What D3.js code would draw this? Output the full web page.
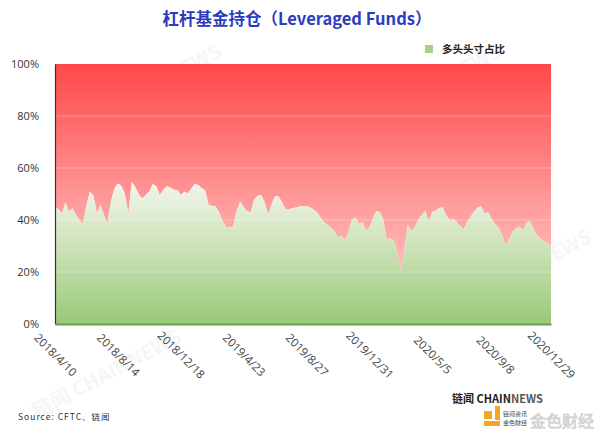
<!DOCTYPE html>
<html>
<head>
<meta charset="utf-8">
<script src="https://cdn.jsdelivr.net/npm/d3@7"></script>
<style>
html,body{margin:0;padding:0;background:#fff;}
svg{display:block;}
</style>
</head>
<body>
<svg id="chart" width="600" height="437"></svg>
<script>
// ---- data ----
const title = "杠杆基金持仓（Leveraged Funds）";
const seriesName = "多头头寸占比";
const source = "Source: CFTC、链闻";
// weekly long-position share (%) from 2018/4/10 to 2020/12/29
const longShare = [
 44.9,44.1,42.6,46.8,43.2,44.5,42.0,40.0,38.7,45.8,
 50.9,49.3,42.6,45.8,42.0,38.5,47.1,52.0,54.0,53.2,
 50.0,42.6,54.7,52.6,49.8,48.3,49.7,51.0,53.8,53.0,
 49.6,51.5,53.0,52.5,51.6,51.5,49.6,50.9,50.3,52.0,
 53.8,53.5,52.2,51.3,45.8,45.5,45.2,43.0,39.5,37.3,
 37.2,37.5,43.5,47.1,45.0,43.3,43.0,47.8,49.3,49.5,
 47.0,42.0,46.0,49.2,49.0,46.8,44.2,44.1,44.5,44.8,
 45.2,45.4,45.3,44.9,44.0,43.0,41.0,39.2,38.0,37.0,
 35.7,33.5,33.8,32.3,35.5,40.1,41.0,38.5,39.2,36.0,
 37.0,40.5,43.5,43.0,40.0,32.3,33.0,32.0,27.5,20.1,
 28.5,38.1,35.8,37.3,40.0,41.9,43.6,39.5,43.3,43.6,
 44.5,44.9,41.7,40.0,40.3,39.3,37.6,36.4,39.2,41.3,
 43.3,44.9,45.3,42.5,43.0,40.5,38.4,37.0,34.0,30.3,
 32.3,35.5,36.7,37.4,36.2,39.0,39.6,36.5,34.0,32.8,
 31.8,31.1,30.2
];
const xTickIndex = [0,18,36,54,72,90,108,126,142];
const xTickLabels = ["2018/4/10","2018/8/14","2018/12/18","2019/4/23","2019/8/27","2019/12/31","2020/5/5","2020/9/8","2020/12/29"];
const yTicks = [0,20,40,60,80,100];

// ---- layout ----
const svg = d3.select("#chart");
const L = 55, R = 551, T = 64, B = 324;
const x = d3.scaleLinear().domain([0, longShare.length - 1]).range([L, R]);
const y = d3.scaleLinear().domain([0, 100]).range([B, T]);

const defs = svg.append("defs");
const gRed = defs.append("linearGradient").attr("id","gRed")
  .attr("gradientUnits","userSpaceOnUse").attr("x1",0).attr("x2",0).attr("y1",T).attr("y2",B);
gRed.append("stop").attr("offset","0%").attr("stop-color","#ff4848");
gRed.append("stop").attr("offset","55%").attr("stop-color","#ff9d9d");
gRed.append("stop").attr("offset","100%").attr("stop-color","#ffd4d4");
const gGreen = defs.append("linearGradient").attr("id","gGreen")
  .attr("gradientUnits","userSpaceOnUse").attr("x1",0).attr("x2",0).attr("y1",y(56)).attr("y2",B);
gGreen.append("stop").attr("offset","0%").attr("stop-color","#f4f6ee");
gGreen.append("stop").attr("offset","45%").attr("stop-color","#cfe3bb");
gGreen.append("stop").attr("offset","100%").attr("stop-color","#98c978");

// faint watermarks
const wm = [[150,95],[430,95],[110,380],[520,280]];
svg.append("g").selectAll("text").data(wm).join("text")
  .attr("transform", d => `translate(${d[0]},${d[1]}) rotate(-28)`)
  .attr("text-anchor","middle")
  .style("font-family","'Noto Sans CJK SC', sans-serif").style("font-weight","700")
  .style("font-size","20px").attr("fill","#000").attr("opacity",0.03)
  .text("链闻 CHAINNEWS");

// areas
const idx = d3.range(longShare.length);
svg.append("path").datum(idx)
  .attr("fill","url(#gRed)")
  .attr("d", d3.area().x(i => x(i)).y0(y(100)).y1(i => y(longShare[i])));
svg.append("path").datum(idx)
  .attr("fill","url(#gGreen)")
  .attr("d", d3.area().x(i => x(i)).y0(y(0)).y1(i => y(longShare[i])));

// gridlines
svg.append("g").selectAll("line").data(yTicks.filter(v => v > 0 && v < 100)).join("line")
  .attr("x1", L).attr("x2", R).attr("y1", d => y(d)).attr("y2", d => y(d))
  .attr("stroke","#ffffff").attr("stroke-opacity",0.3).attr("stroke-width",1);

// y axis
const yAxis = svg.append("g").attr("transform",`translate(${L},0)`)
  .call(d3.axisLeft(y).tickValues(yTicks).tickFormat(d => d + "%").tickSize(0).tickPadding(16));
yAxis.select(".domain").attr("stroke","#333").attr("stroke-width",1.2);
yAxis.selectAll("text").style("font-family","'Open Sans', sans-serif").style("font-size","11px").attr("fill","#333");

// x axis
const xAxis = svg.append("g").attr("transform",`translate(0,${B})`)
  .call(d3.axisBottom(x).tickValues(xTickIndex).tickFormat((d,i) => xTickLabels[i]).tickSize(0));
xAxis.select(".domain").attr("stroke","#6e9e4f").attr("stroke-width",2);
xAxis.selectAll("text")
  .attr("y",0).attr("dy","0.35em")
  .attr("transform","translate(0,31) rotate(45)")
  .attr("text-anchor","middle")
  .style("font-family","'Open Sans', sans-serif").style("font-size","11.5px").attr("fill","#444");

// title
svg.append("text").attr("x",297).attr("y",25).attr("text-anchor","middle")
  .style("font-family","'Noto Sans CJK SC', sans-serif").style("font-weight","700")
  .style("font-size","16.5px").attr("fill","#2b3cc0").text(title);

// legend
svg.append("rect").attr("x",425).attr("y",45).attr("width",8).attr("height",8).attr("fill","#a9d18e");
svg.append("text").attr("x",442).attr("y",53)
  .style("font-family","'Noto Sans CJK SC', sans-serif").style("font-weight","700")
  .style("font-size","10.5px").attr("fill","#222").text(seriesName);

// source
svg.append("text").attr("x",18).attr("y",420)
  .style("font-family","'Noto Sans CJK SC', sans-serif").style("font-size","8.5px")
  .style("letter-spacing","1px").attr("fill","#333").text(source);

// logos
const lg = svg.append("g");
lg.append("text").attr("x",452).attr("y",403)
  .style("font-family","'Noto Sans CJK SC', sans-serif").style("font-weight","700")
  .style("font-size","11px").attr("fill","#222")
  .html('链闻 CHAIN<tspan fill="#555">NEWS</tspan>');
lg.append("rect").attr("x",484).attr("y",411).attr("width",8).attr("height",8).attr("fill","#f5a623");
lg.append("rect").attr("x",484).attr("y",421).attr("width",16).attr("height",5).attr("fill","#f5a623");
lg.append("rect").attr("x",495).attr("y",406).attr("width",5).attr("height",14).attr("fill","#f5a623");
lg.append("text").attr("x",503).attr("y",416)
  .style("font-family","'Noto Sans CJK SC', sans-serif").style("font-size","6px").attr("fill","#444").text("链闻资讯");
lg.append("text").attr("x",503).attr("y",425)
  .style("font-family","'Noto Sans CJK SC', sans-serif").style("font-size","6px").attr("fill","#444").text("金色财经");
lg.append("text").attr("x",530).attr("y",427)
  .style("font-family","'Noto Sans CJK SC', sans-serif").style("font-size","16px")
  .attr("fill","#e6e6e6").attr("stroke","#c8c8c8").attr("stroke-width",0.6).text("金色财经");
</script>
</body>
</html>
